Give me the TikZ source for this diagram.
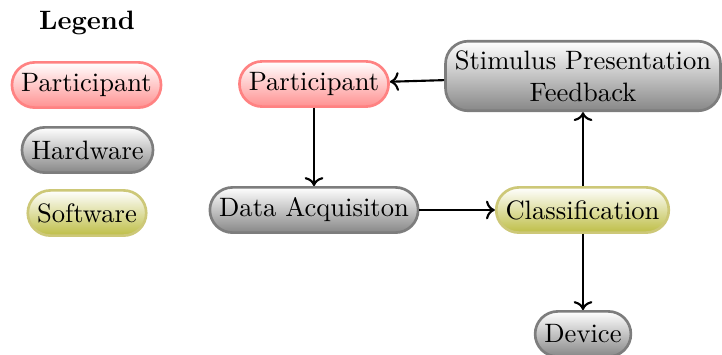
\documentclass[tikz,border=0pt]{standalone}
\usetikzlibrary{arrows.meta}
\definecolor{swborder}{RGB}{205,200,120}
\definecolor{swfill}{RGB}{190,190,70}
\definecolor{ptborder}{RGB}{255,130,130}
\definecolor{ptfill}{RGB}{255,145,145}
\definecolor{hwborder}{RGB}{125,125,125}
\definecolor{hwfill}{RGB}{135,135,135}
\begin{document}
\begin{tikzpicture}[x=0.376pt,y=-0.376pt,
  box/.style={rectangle, rounded corners=8.5pt, line width=1pt, inner sep=3.5pt,
    minimum height=17pt, align=center, font=\normalsize},
  part/.style={box, draw=ptborder, top color=white, bottom color=ptfill},
  hw/.style={box, draw=hwborder, top color=white, bottom color=hwfill},
  sw/.style={box, draw=swborder, top color=white, bottom color=swfill},
  conn/.style={->, >=To, thick}]
\useasboundingbox (0,0) rectangle (722,354);
\node[font=\bfseries] (legend) at (87,23) {Legend};
\node[part] (lp) at (86.5,85) {Participant};
\node[hw] (lh) at (87.5,150) {Hardware};
\node[sw] (ls) at (87,213) {Software};
\node[part] (p) at (314,84) {Participant};
\node[hw] (stim) at (583,76) {Stimulus Presentation\\Feedback};
\node[hw] (da) at (314,210) {Data Acquisiton};
\node[sw] (cl) at (582.5,210) {Classification};
\node[hw] (dev) at (583,334) {Device};
\draw[conn] (p) -- (da);
\draw[conn] (da) -- (cl);
\draw[conn] (cl.north -| stim.south) -- (stim.south);
\draw[conn] (cl.south -| dev.north) -- (dev.north);
\draw[conn] (stim) -- (p);
\end{tikzpicture}
\end{document}
